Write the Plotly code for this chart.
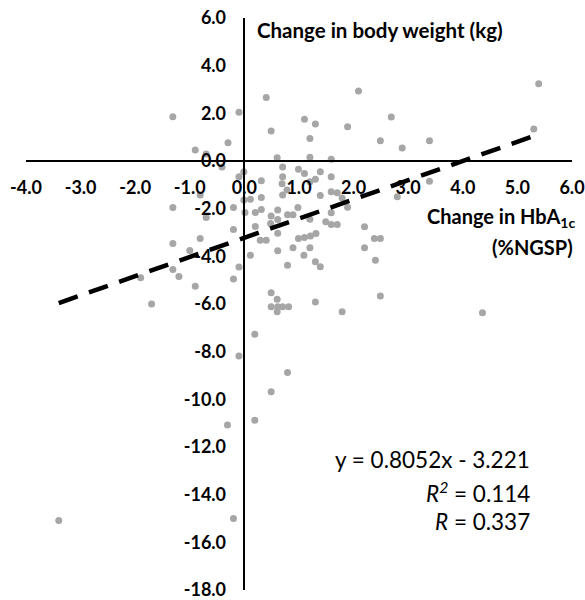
import numpy as np
import plotly.graph_objects as go

# Change in HbA1c (%NGSP) and change in body weight (kg)
hba1c_change = [
    0.40, -0.10, 1.10, 1.30, 0.49, 1.20, -0.30, -0.90, -0.70, 0.60,
    -1.31, 2.09, 2.69, 1.89, 2.49, 2.89, 3.39, 1.59, 5.39, 5.30,
    1.20, -0.41, -0.01, -0.10, 0.70, 0.99, 1.10, 1.39, 0.31, 0.70,
    1.30, 1.59, 1.20, 3.39, 0.69, 0.78, -0.81, -0.01, 0.11, 0.31,
    0.70, 1.39, -0.20, 1.59, 1.70, 1.79, 1.89, 2.80, -1.31, 0.98,
    -0.70, 0.01, 0.20, 0.31, 0.49, 0.61, 0.48, 0.61, 0.79, 0.89,
    -0.20, 0.20, 0.61, 1.20, 1.49, 1.59, 1.70, 2.20, 1.59, 0.29,
    0.40, 0.99, 1.10, 1.21, 1.31, -0.81, -1.31, -1.00, 0.89, 1.20,
    0.61, 0.11, 1.09, 2.38, 2.49, 2.20, 1.30, 1.39, 0.79, -0.10,
    -1.31, -1.20, -0.20, 2.40, -1.90, -0.90, 0.49, 0.60, 0.49, 0.61,
    0.70, 0.81, 0.60, 1.30, 1.79, 2.49, 4.36, -1.70, 0.19, -0.10,
    0.79, 0.49, 0.19, -0.31, -3.40, -0.20,
]
weight_change = [
    2.66, 2.05, 1.75, 1.55, 1.26, 0.94, 0.77, 0.46, 0.29, 0.14,
    1.86, 2.94, 1.85, 1.44, 0.85, 0.55, 0.85, 0.07, 3.24, 1.34,
    0.16, -0.25, -0.45, -0.66, -0.25, -0.35, -0.52, -0.45, -0.83, -0.66,
    -0.77, -0.66, -0.87, -0.85, -0.95, -1.22, -1.43, -1.64, -1.61, -1.53,
    -1.43, -1.45, -1.95, -1.29, -1.33, -1.55, -1.94, -1.50, -1.95, -1.95,
    -2.37, -2.16, -2.16, -2.03, -2.31, -2.06, -2.62, -2.45, -2.25, -2.25,
    -2.87, -2.75, -3.03, -2.44, -2.55, -2.66, -2.66, -2.76, -2.17, -3.33,
    -3.33, -3.25, -3.21, -3.15, -3.04, -3.25, -3.46, -3.75, -3.64, -3.64,
    -3.77, -3.95, -3.95, -3.25, -3.25, -3.64, -4.23, -4.44, -4.37, -4.45,
    -4.55, -4.85, -4.95, -4.16, -4.90, -5.25, -5.53, -5.80, -6.12, -6.12,
    -6.12, -6.12, -6.33, -5.92, -6.33, -5.66, -6.37, -6.00, -7.27, -8.18,
    -8.87, -9.68, -10.88, -11.08, -15.08, -15.00,
]

# Linear trend shown in the chart
slope = 0.8052
intercept = -3.221
r_squared = 0.114
r_value = 0.337

x_ticks = [-4, -3, -2, -1, 0, 1, 2, 3, 4, 5, 6]
y_ticks = [6, 4, 2, 0, -2, -4, -6, -8, -10, -12, -14, -16, -18]

FONT = "Lato"

fig = go.Figure()
fig.add_trace(go.Scatter(
    x=hba1c_change, y=weight_change, mode="markers",
    marker=dict(size=7, color="#a6a6a6"),
    hoverinfo="x+y", showlegend=False,
))

xa = np.array([min(hba1c_change), max(hba1c_change)])
fig.add_trace(go.Scatter(
    x=xa, y=slope * xa + intercept, mode="lines",
    line=dict(color="black", width=4.5, dash="20px,12px"),
    hoverinfo="skip", showlegend=False,
))

fig.update_layout(
    width=585, height=600,
    margin=dict(l=26, r=13, t=18, b=10),
    plot_bgcolor="white", paper_bgcolor="white",
    font=dict(family=FONT, color="black"),
    xaxis=dict(
        range=[-4, 6], tickvals=x_ticks,
        ticktext=[f"{v:.1f}" for v in x_ticks],
        showgrid=False, zeroline=False, showline=True,
        linecolor="black", linewidth=1.5, ticks="",
        anchor="free", position=0.75,
        tickfont=dict(family=FONT, size=18, color="black", weight="bold"),
        ticklabelstandoff=11, automargin=False, ticklabeloverflow="allow",
    ),
    yaxis=dict(
        range=[-18, 6], tickvals=y_ticks,
        ticktext=[f"{v:.1f}" for v in y_ticks],
        showgrid=False, zeroline=False, showline=True,
        linecolor="black", linewidth=1.5, ticks="",
        anchor="free", position=0.4,
        tickfont=dict(family=FONT, size=18, color="black", weight="bold"),
        ticklabelstandoff=14, automargin=False, ticklabeloverflow="allow",
    ),
)

annots = [
    dict(text="<b>Change in body weight (kg)</b>", x=0.4194, y=0.979,
         xanchor="left", yanchor="middle", font=dict(size=20.5)),
    dict(text="<b>Change in HbA<sub>1c</sub></b>", x=1.009, y=0.652,
         xanchor="right", yanchor="middle", font=dict(size=20)),
    dict(text="<b>(%NGSP)</b>", x=1.0055, y=0.5997,
         xanchor="right", yanchor="middle", font=dict(size=20)),
    dict(text=f"y = {slope:.4f}x - {abs(intercept):.3f}", x=0.9267, y=0.2273,
         xanchor="right", yanchor="middle", font=dict(size=22.5)),
    dict(text=f"<i>R</i><sup><i>2</i></sup> = {r_squared:.3f}", x=0.9267, y=0.1713,
         xanchor="right", yanchor="middle", font=dict(size=22.5)),
    dict(text=f"<i>R</i> = {r_value:.3f}", x=0.9267, y=0.1189,
         xanchor="right", yanchor="middle", font=dict(size=22.5)),
]
for a in annots:
    fig.add_annotation(xref="paper", yref="paper", showarrow=False, **a)

fig.write_html("out.html")
